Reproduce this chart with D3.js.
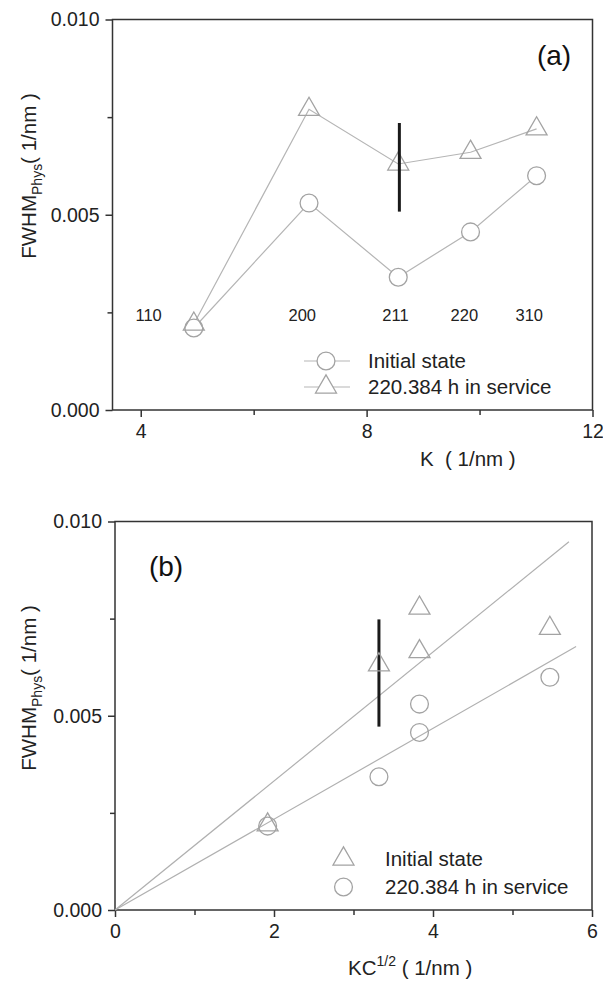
<!DOCTYPE html>
<html>
<head>
<meta charset="utf-8">
<script src="https://cdn.jsdelivr.net/npm/d3@7"></script>
<style>
  body { margin: 0; background: #fff; }
  svg { font-family: "Liberation Sans", Arial, sans-serif; }
  .tick text { font-size: 19.5px; fill: #222; }
  .tick line { stroke: #333; stroke-width: 1.5; }
</style>
</head>
<body>
<div id="chart"></div>
<script>
// ---------- data : panel (a) ----------
const kA = [4.94, 6.98, 8.56, 9.84, 11.01];
const initA = [0.0021, 0.0053, 0.0034, 0.00456, 0.006];
const serviceA = [0.0022, 0.0077, 0.0063, 0.0066, 0.0072];
const hklLabels = ["110", "200", "211", "220", "310"];
const hklX = [4.14, 6.86, 8.51, 9.73, 10.88];
const hklY = 0.00243;
const errA = [8.58, 0.00508, 0.00735]; // x, low, high
const xTicksA = [4, 8, 12];
const xMinorA = [6, 10];

// ---------- data : panel (b) ----------
const kcB = [1.92, 3.32, 3.83, 3.83, 5.47];
const triB = [0.00219, 0.00631, 0.00777, 0.00665, 0.00725];
const circB = [0.00216, 0.00343, 0.0053, 0.00457, 0.00599];
const fitUpper = [[0, 0], [5.71, 0.00948]];
const fitLower = [[0, 0], [5.8, 0.00678]];
const errB = [3.32, 0.00472, 0.00748];
const xTicksB = [0, 2, 4, 6];
const xMinorB = [1, 3, 5];

const yTicks = [0, 0.005, 0.01];
const yMinor = [0.0025, 0.0075];

const markColor = "#a3a3a3";
const axisColor = "#333";

const svg = d3.select("#chart").append("svg")
  .attr("width", 603).attr("height", 982);

const circleSym = d3.symbol().type(d3.symbolCircle).size(250);
const triSym = d3.symbol().type(d3.symbolTriangle).size(190);

// draws frame, ticks and labels of one panel
function frame(x, y, xTicks, xMinor) {
  const g = svg.append("g");
  const [x0, x1] = x.range();
  const [y0, y1] = y.range();

  g.append("g")
    .attr("transform", `translate(0,${y0})`)
    .call(d3.axisBottom(x).tickValues(xTicks).tickSize(7).tickPadding(7.5)
      .tickSizeOuter(0).tickFormat(d3.format("d")))
    .call((a) => a.select(".domain").remove());
  g.append("g")
    .attr("transform", `translate(0,${y0})`)
    .call(d3.axisBottom(x).tickValues(xMinor).tickSize(5).tickFormat(""))
    .call((a) => a.select(".domain").remove());

  g.append("g")
    .attr("transform", `translate(${x0},0)`)
    .call(d3.axisLeft(y).tickValues(yTicks).tickSize(7).tickPadding(6).tickFormat(d3.format(".3f")))
    .call((a) => a.select(".domain").remove());
  g.append("g")
    .attr("transform", `translate(${x0},0)`)
    .call(d3.axisLeft(y).tickValues(yMinor).tickSize(5).tickFormat(""))
    .call((a) => a.select(".domain").remove());

  g.append("rect")
    .attr("x", x0).attr("y", y1)
    .attr("width", x1 - x0).attr("height", y0 - y1)
    .attr("fill", "none")
    .attr("stroke", axisColor)
    .attr("stroke-width", 1.5);
  return g;
}

function yLabel(cx, cy) {
  const t = svg.append("text")
    .attr("transform", `translate(${cx},${cy}) rotate(-90)`)
    .attr("text-anchor", "middle")
    .attr("font-size", 20.5)
    .attr("fill", "#222");
  t.append("tspan").text("FWHM");
  t.append("tspan").attr("font-size", 14).attr("dy", 6).text("Phys");
  t.append("tspan").attr("dy", -6).text("( 1/nm )");
}

////////////////////////////// panel (a) //////////////////////////////
const xA = d3.scaleLinear().domain([3.5, 12]).range([112.5, 592.5]);
const yA = d3.scaleLinear().domain([0, 0.01]).range([410, 19.5]);
frame(xA, yA, xTicksA, xMinorA);

const lineA = d3.line().x((d) => xA(d[0])).y((d) => yA(d[1]));
[initA, serviceA].forEach((s) => {
  svg.append("path")
    .attr("d", lineA(kA.map((k, i) => [k, s[i]])))
    .attr("fill", "none")
    .attr("stroke", "#b5b5b5")
    .attr("stroke-width", 1.2);
});

svg.selectAll(".cA").data(kA).enter().append("path")
  .attr("transform", (d, i) => `translate(${xA(d)},${yA(initA[i])})`)
  .attr("d", circleSym)
  .attr("fill", "white").attr("stroke", markColor).attr("stroke-width", 1.3);
svg.selectAll(".tA").data(kA).enter().append("path")
  .attr("transform", (d, i) => `translate(${xA(d)},${yA(serviceA[i])})`)
  .attr("d", triSym)
  .attr("fill", "none").attr("stroke", markColor).attr("stroke-width", 1.3);

// error bar over the 211 triangle
svg.append("line")
  .attr("x1", xA(errA[0])).attr("x2", xA(errA[0]))
  .attr("y1", yA(errA[1])).attr("y2", yA(errA[2]))
  .attr("stroke", "#1a1a1a").attr("stroke-width", 3);

svg.selectAll(".hkl").data(hklLabels).enter().append("text")
  .attr("x", (d, i) => xA(hklX[i]))
  .attr("y", yA(hklY))
  .attr("dy", "0.35em")
  .attr("text-anchor", "middle")
  .attr("font-size", 16.5)
  .attr("fill", "#222")
  .text((d) => d);

svg.append("text").attr("x", 554).attr("y", 65)
  .attr("text-anchor", "middle").attr("font-size", 28).attr("fill", "#111")
  .text("(a)");

// legend (a)
const legA = [["Initial state", circleSym, 361], ["220.384 h in service", triSym, 387]];
legA.forEach(([label, sym, ly]) => {
  svg.append("line").attr("x1", 304).attr("x2", 350).attr("y1", ly).attr("y2", ly)
    .attr("stroke", "#b5b5b5").attr("stroke-width", 1.2);
  svg.append("path").attr("transform", `translate(326,${ly})`).attr("d", sym)
    .attr("fill", "white").attr("stroke", markColor).attr("stroke-width", 1.3);
  svg.append("text").attr("x", 368).attr("y", ly).attr("dy", "0.36em")
    .attr("font-size", 20.5).attr("fill", "#222").text(label);
});

svg.append("text").attr("x", 420).attr("y", 466)
  .attr("font-size", 20.5).attr("fill", "#222")
  .attr("xml:space", "preserve")
  .text("K  ( 1/nm )");
yLabel(36, 176);

////////////////////////////// panel (b) //////////////////////////////
const xB = d3.scaleLinear().domain([0, 6]).range([115, 592]);
const yB = d3.scaleLinear().domain([0, 0.01]).range([910, 521.5]);
frame(xB, yB, xTicksB, xMinorB);

const lineB = d3.line().x((d) => xB(d[0])).y((d) => yB(d[1]));
[fitUpper, fitLower].forEach((f) => {
  svg.append("path").attr("d", lineB(f))
    .attr("fill", "none").attr("stroke", "#b0b0b0").attr("stroke-width", 1.2);
});

svg.append("line")
  .attr("x1", xB(errB[0])).attr("x2", xB(errB[0]))
  .attr("y1", yB(errB[1])).attr("y2", yB(errB[2]))
  .attr("stroke", "#1a1a1a").attr("stroke-width", 3);

svg.selectAll(".tB").data(kcB).enter().append("path")
  .attr("transform", (d, i) => `translate(${xB(d)},${yB(triB[i])})`)
  .attr("d", triSym)
  .attr("fill", "none").attr("stroke", markColor).attr("stroke-width", 1.3);
svg.selectAll(".cB").data(kcB).enter().append("path")
  .attr("transform", (d, i) => `translate(${xB(d)},${yB(circB[i])})`)
  .attr("d", circleSym)
  .attr("fill", "none").attr("stroke", markColor).attr("stroke-width", 1.3);

svg.append("text").attr("x", 166).attr("y", 576)
  .attr("text-anchor", "middle").attr("font-size", 28).attr("fill", "#111")
  .text("(b)");

const legB = [["Initial state", triSym, 859], ["220.384 h in service", circleSym, 887]];
legB.forEach(([label, sym, ly]) => {
  svg.append("path").attr("transform", `translate(343.5,${ly})`).attr("d", sym)
    .attr("fill", "none").attr("stroke", markColor).attr("stroke-width", 1.3);
  svg.append("text").attr("x", 385).attr("y", ly).attr("dy", "0.36em")
    .attr("font-size", 20.5).attr("fill", "#222").text(label);
});

const xl = svg.append("text").attr("x", 348).attr("y", 975)
  .attr("font-size", 20.5).attr("fill", "#222");
xl.append("tspan").text("KC");
xl.append("tspan").attr("font-size", 14).attr("dy", -9).text("1/2");
xl.append("tspan").attr("dy", 9).text(" ( 1/nm )");
yLabel(36, 688);
</script>
</body>
</html>
